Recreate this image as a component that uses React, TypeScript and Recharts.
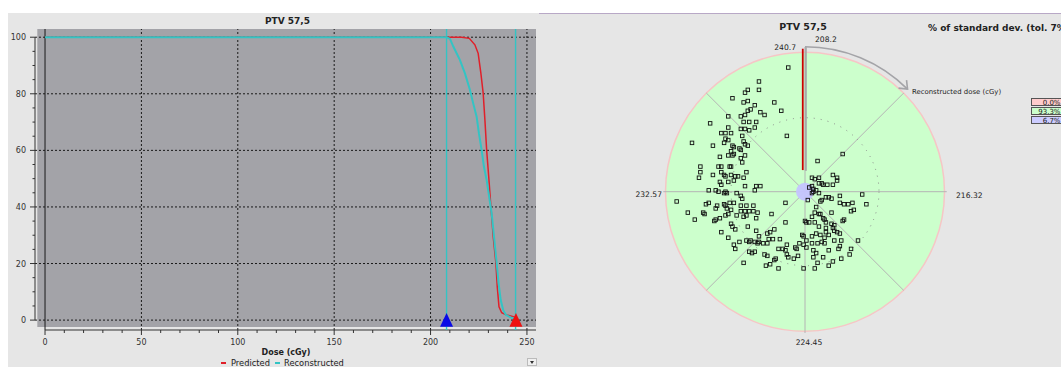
import React from 'react';
import {
  LineChart,
  Line,
  XAxis,
  YAxis,
  ReferenceLine,
  ReferenceArea,
  ReferenceDot,
  ScatterChart,
  Scatter,
} from 'recharts';

const FONT = '"DejaVu Sans", Verdana, sans-serif';

// ---- DVH data (dose in cGy, volume in %) ----
const predictedDose = [0, 208.3, 216.1, 220.1, 223.0, 224.7, 226.1, 227.3, 228.2, 229.1, 230.3, 231.3, 232.5, 233.9, 234.6, 235.5, 236.9, 239.5, 242.9, 244.6];
const predictedVolume = [100, 100, 100, 99.6, 97.3, 94.3, 87.3, 80.2, 70.7, 60.1, 49.5, 40.1, 29.5, 20.1, 11.8, 4.7, 2.6, 1.8, 1.2, 0.6];
const reconstructedDose = [0, 208.3, 210.1, 211.8, 215.2, 217.8, 220.4, 222.1, 223.9, 225.1, 226.5, 227.7, 229.1, 230.4, 231.7, 232.9, 234.3, 235.3, 236.4, 237.7, 239.1, 242.1, 243.8];
const reconstructedVolume = [100, 100, 99.4, 96.7, 92.0, 87.3, 81.4, 76.7, 71.9, 66.0, 60.1, 54.2, 49.5, 43.6, 37.7, 29.5, 20.1, 13.0, 7.1, 3.5, 1.8, 0.8, 0.6];

const reconstructedMarker = 208.3;
const predictedMarker = 244.3;
const markerLines = [208.3, 244.1];

const doseTicks = [0, 10, 20, 30, 40, 50, 60, 70, 80, 90, 100, 110, 120, 130, 140, 150, 160, 170, 180, 190, 200, 210, 220, 230, 240, 250];
const volumeTicks = [0, 5, 10, 15, 20, 25, 30, 35, 40, 45, 50, 55, 60, 65, 70, 75, 80, 85, 90, 95, 100];
const doseGrid = [50, 100, 150, 200, 250];
const volumeGrid = [0, 20, 40, 60, 80, 100];

// ---- deviation map (points relative to centre, circle radius = 100) ----
const deviationPoints: [number, number][] = [
  [-12, 89], [-33, 79], [-33, 73], [-41, 73], [-43, 71], [-52, 67], [-41, 65], [-44, 64], [-36, 62], [-22, 64],
  [-17, 58], [-39, 59], [-41, 58], [-32, 57], [-29, 55], [-55, 54], [-46, 54], [-43, 55], [-35, 50], [-40, 50],
  [-68, 49], [-44, 50], [-46, 45], [-43, 45], [-40, 44], [-55, 46], [-36, 46], [-60, 42], [-57, 42], [-53, 42],
  [-13, 40], [-45, 40], [-57, 38], [-55, 37], [-81, 35], [-66, 33], [-58, 35], [-52, 33], [-51, 32], [-44, 36],
  [-43, 34], [-41, 33], [-47, 31], [-46, 30], [-53, 29], [-51, 27], [-61, 25], [-55, 26], [-52, 26], [-43, 26],
  [27, 27], [9, 22], [-46, 24], [-62, 18], [-60, 18], [-54, 18], [-53, 18], [-75, 18], [-75, 14], [-76, 10],
  [-45, 21], [-42, 14], [-66, 12], [-60, 14], [-58, 12], [-57, 11], [-53, 12], [-50, 11], [-48, 11], [-51, 8],
  [-44, 10], [-32, 4], [-43, 4], [-61, 7], [-60, 5], [-55, 7], [-57, 0], [-69, 1], [-64, 1], [-62, 0],
  [-58, -1], [-56, -1], [-49, -1], [-46, -3], [-36, 1], [-35, 4], [-45, -5], [-92, -7], [-71, -9], [-69, -8],
  [-63, -10], [-58, -9], [-57, -10], [-54, -8], [-51, -8], [-46, -10], [-42, -10], [-37, -10], [-14, -8], [-73, -15],
  [-84, -15], [-72, -16], [-64, -12], [-56, -12], [-53, -13], [-46, -14], [-43, -14], [-40, -14], [-37, -14], [-34, -15],
  [-64, -20], [-65, -21], [-61, -19], [-57, -17], [-55, -16], [-49, -17], [-44, -18], [-42, -17], [-35, -19], [-24, -16],
  [-79, -20], [-53, -23], [-52, -25], [-50, -27], [-60, -29], [-41, -25], [-55, -33], [-14, -22], [-35, -28], [-27, -30],
  [-25, -29], [-22, -27], [-33, -32], [-33, -36], [-47, -36], [-42, -35], [-40, -36], [-39, -35], [-36, -36], [-34, -37],
  [-30, -37], [-27, -37], [-26, -34], [-23, -34], [-18, -34], [-51, -38], [-50, -41], [-40, -43], [-38, -44], [-36, -43],
  [-27, -46], [-21, -48], [-22, -49], [-29, -45], [-19, -41], [-13, -38], [-44, -51], [-28, -53], [-25, -52], [-19, -55],
  [-13, -45], [-12, -47], [-8, -48], [-5, -46], [-7, -40], [-6, -41], [-4, -37], [-14, -42], [-16, -41],
  [5, 10], [7, 9], [10, 10], [10, 6], [12, 6], [13, 5], [16, 5], [20, 5], [20, 12], [23, 10],
  [23, 8], [5, 4], [6, 2], [8, 1], [6, 0], [5, -1], [3, 3], [2, -6], [10, -1], [11, -7],
  [12, -6], [15, -4], [17, -4], [19, -5], [25, -3], [25, -8], [28, -9], [31, -9], [34, -8], [35, -13],
  [33, -14], [41, -2], [44, -9], [19, -15], [8, -11], [7, -15], [10, -16], [11, -16], [13, -19], [14, -20],
  [5, -18], [0, -21], [1, -22], [3, -22], [7, -22], [10, -25], [15, -22], [19, -23], [21, -24], [27, -21],
  [28, -20], [20, -26], [21, -28], [15, -26], [23, -29], [25, -30], [26, -35], [21, -35], [15, -29], [17, -31],
  [14, -33], [8, -30], [11, -31], [5, -32], [-2, -31], [-1, -32], [1, -35], [5, -37], [-1, -38], [1, -40],
  [9, -37], [12, -36], [6, -42], [8, -44], [14, -37], [17, -42], [25, -39], [24, -41], [33, -41], [32, -45],
  [26, -48], [20, -50], [13, -47], [9, -51], [6, -47], [17, -53], [7, -55], [-1, -55], [38, -35],
];

const predictedData = predictedDose.map((d, i) => ({ dose: d, volume: predictedVolume[i] }));
const reconstructedData = reconstructedDose.map((d, i) => ({ dose: d, volume: reconstructedVolume[i] }));
const scatterData = deviationPoints.map(([x, y]) => ({ x, y }));

// axis extents for the DVH plot
const X_MIN = -5.2;
const X_MAX = 254.7;
const Y_MIN = -3.5;
const Y_MAX = 102.9;

const RED = '#e0202a';
const CYAN = '#33c4c4';

const DoseTick = (props: any) => {
  const { x, y, payload } = props;
  const major = payload.value % 50 === 0;
  return (
    <g>
      <line x1={x} x2={x} y1={y} y2={y + (major ? 5 : 3)} stroke="#333" strokeWidth={1} />
      {major && (
        <text x={x} y={y + 15} textAnchor="middle" fontSize={8} fill="#333" fontFamily={FONT}>
          {payload.value}
        </text>
      )}
    </g>
  );
};

const VolumeTick = (props: any) => {
  const { x, y, payload } = props;
  const major = payload.value % 20 === 0;
  return (
    <g>
      <line x1={x - (major ? 5 : 2.5)} x2={x} y1={y} y2={y} stroke="#333" strokeWidth={1} />
      {major && (
        <text x={x - 9} y={y + 3} textAnchor="end" fontSize={8} fill="#333" fontFamily={FONT}>
          {payload.value}
        </text>
      )}
    </g>
  );
};

const triangle = (color: string) => (p: any) => (
  <path d={`M${p.cx - 6.5},${p.cy + 6.7} L${p.cx + 6.5},${p.cy + 6.7} L${p.cx},${p.cy - 7} Z`} fill={color} />
);

const SquareMark = (props: any) => (
  <rect x={props.cx - 1.75} y={props.cy - 1.75} width={3.5} height={3.5} fill="none" stroke="#111" strokeWidth={0.9} />
);

const ArcArrow = (p: any) => {
  const r = 145;
  const ex = p.cx + r * Math.SQRT1_2;
  const ey = p.cy - r * Math.SQRT1_2;
  return (
    <g stroke="#a4a4a8" strokeWidth={1.6} fill="none">
      <path d={`M${p.cx},${p.cy - r} A${r},${r} 0 0 1 ${ex},${ey}`} />
      <path d={`M${ex - 9},${ey - 1} L${ex},${ey} L${ex - 1},${ey - 9}`} />
    </g>
  );
};

const Txt = ({ x, y, children, align = 'left', size = 8, bold = false, color = '#222' }: any) => (
  <div
    style={{
      position: 'absolute',
      left: x,
      top: y,
      transform: `translate(${align === 'center' ? '-50%' : align === 'right' ? '-100%' : '0'}, -50%)`,
      fontFamily: FONT,
      fontSize: size,
      fontWeight: bold ? 'bold' : 'normal',
      color,
      whiteSpace: 'nowrap',
      lineHeight: 1,
    }}
  >
    {children}
  </div>
);

const LegendBox = ({ y, bg, label }: any) => (
  <div
    style={{
      position: 'absolute',
      left: 1030.5,
      top: y,
      width: 34,
      height: 8,
      background: bg,
      border: '0.8px solid #555',
      fontFamily: FONT,
      fontSize: 7,
      lineHeight: '8px',
      textAlign: 'right',
      paddingRight: 3,
      boxSizing: 'border-box',
      color: '#222',
    }}
  >
    {label}
  </div>
);

const App: React.FC = () => {
  return (
    <div style={{ position: 'absolute', left: 0, top: 0, width: 1061, height: 367, overflow: 'hidden', background: '#fff' }}>
      <div style={{ position: 'absolute', left: 8, top: 13, width: 1053, height: 354, background: '#e6e6e6' }} />
      <div style={{ position: 'absolute', left: 539, top: 13, width: 522, height: 1, background: '#b8a8c6' }} />

      {/* DVH panel */}
      <div style={{ position: 'absolute', left: 0, top: 0 }}>
        <LineChart width={545} height={367} margin={{ top: 29, right: 9, bottom: 0, left: 0 }}>
          <XAxis
            type="number"
            dataKey="dose"
            domain={[X_MIN, X_MAX]}
            ticks={doseTicks}
            interval={0}
            height={37}
            tickSize={0}
            tickMargin={0}
            axisLine={false}
            tickLine={false}
            tick={<DoseTick />}
            allowDataOverflow
          />
          <YAxis
            type="number"
            domain={[Y_MIN, Y_MAX]}
            ticks={volumeTicks}
            interval={0}
            width={35}
            tickSize={0}
            tickMargin={0}
            axisLine={false}
            tickLine={false}
            tick={<VolumeTick />}
            allowDataOverflow
          />
          <ReferenceArea x1={-4.0} x2={X_MAX} y1={-2.4} y2={Y_MAX} fill="#a3a3a8" fillOpacity={1} stroke="none" />
          {doseGrid.map((d) => (
            <ReferenceLine key={`dx${d}`} x={d} stroke="#1a1a1a" strokeDasharray="2 2" />
          ))}
          {volumeGrid.map((v) => (
            <ReferenceLine key={`vy${v}`} y={v} stroke="#1a1a1a" strokeDasharray="2 2" />
          ))}
          <ReferenceLine x={0} stroke="#1a1a1a" />
          <ReferenceLine segment={[{ x: 0, y: Y_MIN }, { x: X_MAX, y: Y_MIN }]} stroke="#333" ifOverflow="visible" />
          <ReferenceLine segment={[{ x: X_MIN, y: 0 }, { x: X_MIN, y: 100 }]} stroke="#333" ifOverflow="visible" />
          {markerLines.map((d) => (
            <ReferenceLine key={`m${d}`} x={d} stroke={CYAN} strokeWidth={1.4} />
          ))}
          <Line data={predictedData} dataKey="volume" type="linear" stroke={RED} strokeWidth={1.5} dot={false} isAnimationActive={false} />
          <Line data={reconstructedData} dataKey="volume" type="linear" stroke={CYAN} strokeWidth={2} dot={false} isAnimationActive={false} />
          <ReferenceDot x={reconstructedMarker} y={0} shape={triangle('#0a0ae6')} />
          <ReferenceDot x={predictedMarker} y={0} shape={triangle('#ee1010')} />
        </LineChart>
      </div>

      <Txt x={287.5} y={21} align="center" size={9} bold>PTV 57,5</Txt>
      <Txt x={286} y={353} align="center" size={8} bold>Dose (cGy)</Txt>
      <div style={{ position: 'absolute', left: 221, top: 362, width: 5, height: 1.5, background: RED }} />
      <Txt x={231} y={362.5} size={8.3}>Predicted</Txt>
      <div style={{ position: 'absolute', left: 275, top: 362, width: 5, height: 1.5, background: CYAN }} />
      <Txt x={284} y={362.5} size={8.3}>Reconstructed</Txt>
      <div
        style={{
          position: 'absolute', left: 527, top: 358, width: 10, height: 8, background: '#f0f0f0',
          border: '1px solid #bbb', boxSizing: 'border-box',
        }}
      >
        <div style={{ position: 'absolute', left: 2, top: 2, width: 0, height: 0, borderLeft: '2.5px solid transparent', borderRight: '2.5px solid transparent', borderTop: '3px solid #333' }} />
      </div>

      {/* deviation map panel */}
      <div style={{ position: 'absolute', left: 640, top: 13 }}>
        <ScatterChart width={421} height={354} margin={{ top: 25.25, right: 102.55, bottom: 21.85, left: 11.55 }}>
          <XAxis type="number" dataKey="x" domain={[-110, 110]} hide allowDataOverflow />
          <YAxis type="number" dataKey="y" domain={[-110, 110]} hide allowDataOverflow />
          <ReferenceDot x={0} y={0} r={139.5} fill="#ccffcc" fillOpacity={1} stroke="#f6c6c6" strokeWidth={1.5} zIndex={-10} />
          <ReferenceLine segment={[{ x: -101.6, y: 0 }, { x: 101.6, y: 0 }]} stroke="#b4b4b4" />
          <ReferenceLine segment={[{ x: 0, y: 103.7 }, { x: 0, y: -101.3 }]} stroke="#b4b4b4" />
          <ReferenceLine segment={[{ x: -70.7, y: -70.7 }, { x: 70.7, y: 70.7 }]} stroke="#b4b4b4" />
          <ReferenceLine segment={[{ x: -70.7, y: 70.7 }, { x: 70.7, y: -70.7 }]} stroke="#b4b4b4" />
          <ReferenceLine segment={[{ x: 0.6, y: 103.7 }, { x: 0.6, y: 15 }]} stroke="#a8a8a8" strokeWidth={2} />
          <ReferenceDot x={0} y={0} r={74} fill="none" stroke="#8a8a8a" strokeWidth={1} strokeDasharray="1 6" />
          <ReferenceDot x={0} y={0} r={9} fill="#c4c4ff" fillOpacity={0.95} stroke="none" />
          <ReferenceLine segment={[{ x: -1.6, y: 15.5 }, { x: -1.6, y: 102.5 }]} stroke="#cc0000" strokeWidth={1.8} />
          <ReferenceDot x={0} y={0} shape={ArcArrow} />
          <Scatter data={scatterData} shape={SquareMark} isAnimationActive={false} />
        </ScatterChart>
      </div>

      <Txt x={803} y={27} align="center" size={9.5} bold>PTV 57,5</Txt>
      <Txt x={928} y={28} size={9} bold>% of standard dev. (tol. 7%)</Txt>
      <Txt x={796} y={48} align="right" size={7.6}>240.7</Txt>
      <Txt x={815} y={40} size={7.6}>208.2</Txt>
      <Txt x={912} y={92} size={6.9}>Reconstructed dose (cGy)</Txt>
      <Txt x={662} y={195} align="right" size={7.6}>232.57</Txt>
      <Txt x={956} y={196} size={7.6}>216.32</Txt>
      <Txt x={809} y={343} align="center" size={7.6}>224.45</Txt>
      <LegendBox y={98} bg="#ffcccc" label="0.0%" />
      <LegendBox y={107} bg="#ccffcc" label="93.3%" />
      <LegendBox y={116} bg="#ccccff" label="6.7%" />
    </div>
  );
};

export default App;
